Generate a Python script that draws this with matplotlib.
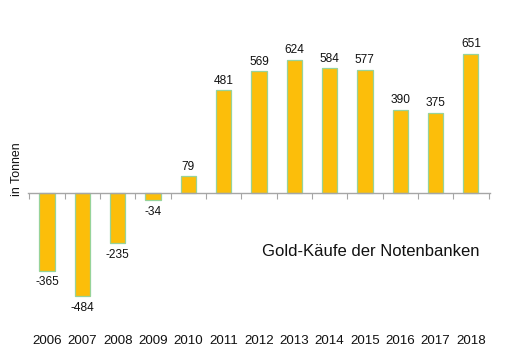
import matplotlib.pyplot as plt
import numpy as np

# --- Data ---
years = ["2006", "2007", "2008", "2009", "2010", "2011", "2012",
         "2013", "2014", "2015", "2016", "2017", "2018"]
purchases = [-365, -484, -235, -34, 79, 481, 569, 624, 584, 577, 390, 375, 651]

TITLE = "Gold-Käufe der Notenbanken"
YLABEL = "in Tonnen"

plt.rcParams['font.family'] = ['Liberation Sans', 'DejaVu Sans']

fig = plt.figure(figsize=(5.06, 3.57), dpi=100)
ax = fig.add_axes([0.0553, 0.1008, 0.913, 0.8375])

x = np.arange(len(years))
ax.bar(x, purchases, width=0.43, color='#FCBE0A', edgecolor='#97D39A',
       linewidth=0.9, zorder=2)

# value labels above / below the bars
for xi, v in zip(x, purchases):
    if v >= 0:
        ax.annotate(str(v), (xi, v), xytext=(0, 2.5), textcoords='offset points',
                    ha='center', va='bottom', fontsize=8.6, color='#111111')
    else:
        ax.annotate(str(v), (xi, v), xytext=(0, -4), textcoords='offset points',
                    ha='center', va='top', fontsize=8.6, color='#111111')

ax.set_xlim(-0.54, len(years) - 0.46)
ax.set_ylim(-600, 800)

# zero line as the category axis, ticks between categories
for side in ['top', 'right', 'left']:
    ax.spines[side].set_visible(False)
ax.spines['bottom'].set_position(('data', 0))
ax.spines['bottom'].set_color('#A6A6A6')
ax.spines['bottom'].set_linewidth(1.0)
ax.set_xticks(np.arange(len(years) + 1) - 0.5)
ax.set_xticklabels([])
ax.tick_params(axis='x', length=4, color='#A6A6A6', direction='out')
ax.set_yticks([])

# year labels below the plot
trans = ax.get_xaxis_transform()
for xi, yr in zip(x, years):
    ax.text(xi, -0.066, yr, transform=trans, ha='center', va='center',
            fontsize=9.6, color='#111111')

fig.text(17 / 506, 1 - 169 / 357, YLABEL, rotation=90, ha='center',
         va='center', fontsize=8.9, color='#111111')
fig.text(371 / 506, 1 - 252 / 357, TITLE, ha='center', va='center',
         fontsize=12, color='#111111')

fig.savefig("out.png", dpi=100)
